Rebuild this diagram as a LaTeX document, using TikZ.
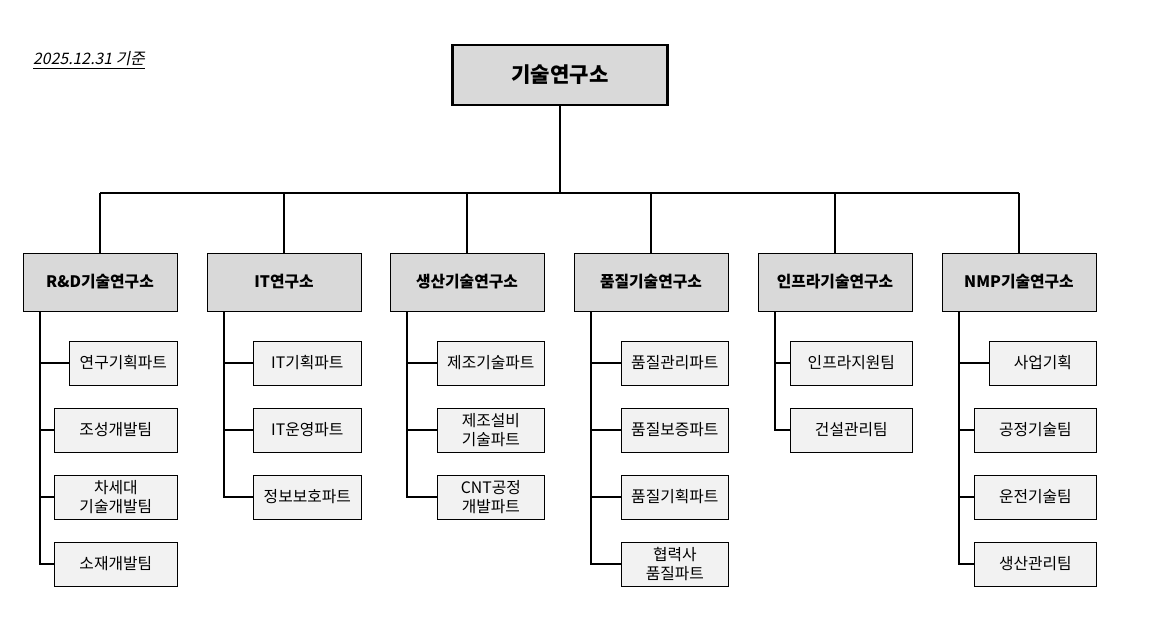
\documentclass[tikz,border=0pt]{standalone}
\usepackage{fontspec}
\setmainfont{Noto Sans CJK KR}
\newfontfamily\krslant[FakeSlant=0.2]{Noto Sans CJK KR}
\usetikzlibrary{positioning}
\definecolor{headgray}{HTML}{D9D9D9}
\definecolor{leafgray}{HTML}{F2F2F2}
\tikzset{
  top/.style={draw,line width=1.2pt,fill=headgray,minimum width=215\px,minimum height=60\px,font=\bfseries\large},
  dept/.style={draw,fill=headgray,minimum width=154\px,minimum height=58\px,font=\bfseries\small},
  leaf/.style={draw,fill=leafgray,minimum height=44\px,font=\small,align=center,inner sep=1pt},
  conn/.style={line width=0.6pt}
}
\newlength{\px}\setlength{\px}{0.02cm}
\begin{document}
\begin{tikzpicture}[x=0.02cm,y=-0.02cm]
\useasboundingbox (0,0) rectangle (1151,622);
\node[anchor=west,font=\krslant\small] at (27,60) {\underline{2025.12.31 기준}};
\node[top] (lab) at (560,75) {기술연구소};
\coordinate (bus) at (560,193);
\draw[conn] (lab.south) -- (bus);
\draw[conn] (100,193) -- (1019,193);
% departments
\foreach \n/\cx/\t in {rd/100/R\&D기술연구소, it/284/IT연구소, prod/467/생산기술연구소,
  qual/651/품질기술연구소, infra/835/인프라기술연구소, nmp/1019/NMP기술연구소}{
  \node[dept] (\n) at (\cx,282) {\t};
  \draw[conn] (\cx,193) -- (\n.north);
}
% teams: dept / index / left edge / right edge / text
\foreach \d/\i/\l/\r/\t in {
  rd/1/69/177/연구기획파트, rd/2/54/177/조성개발팀, rd/3/54/177/{차세대\\기술개발팀}, rd/4/54/177/소재개발팀,
  it/1/253/361/IT기획파트, it/2/253/361/IT운영파트, it/3/253/361/정보보호파트,
  prod/1/437/544/제조기술파트, prod/2/437/544/{제조설비\\기술파트}, prod/3/437/544/{CNT공정\\개발파트},
  qual/1/621/728/품질관리파트, qual/2/621/728/품질보증파트, qual/3/621/728/품질기획파트, qual/4/621/728/{협력사\\품질파트},
  infra/1/790/912/인프라지원팀, infra/2/790/912/건설관리팀,
  nmp/1/989/1096/사업기획/관리, nmp/2/974/1096/공정기술팀, nmp/3/974/1096/운전기술팀, nmp/4/974/1096/생산관리팀}{
  \pgfmathsetmacro{\w}{\r-\l}
  \pgfmathsetmacro{\y}{296+67*\i}
  \node[leaf,minimum width=\w\px,text width=\w\px-4pt,anchor=west] (\d\i) at (\l,\y) {\t};
  \draw[conn] ([xshift=-60\px]\d.south) |- (\d\i.west);
}
\end{tikzpicture}
\end{document}
